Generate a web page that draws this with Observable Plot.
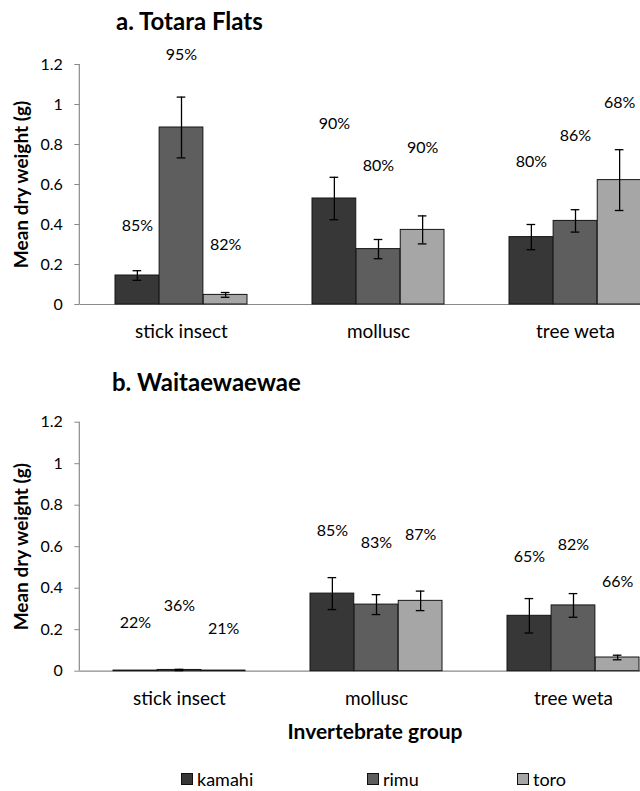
<!DOCTYPE html>
<html><head><meta charset="utf-8">
<script src="https://cdn.jsdelivr.net/npm/d3@7"></script>
<script src="https://cdn.jsdelivr.net/npm/@observablehq/plot@0.6"></script>
<style>
html,body{margin:0;padding:0;background:#fff;overflow:hidden;}
#root{position:relative;width:640px;height:791px;overflow:hidden;font-family:Lato,sans-serif;color:#000;}
.abs{position:absolute;white-space:nowrap;line-height:1.2;}
.ttl{font-weight:bold;font-size:24px;}
.leg{font-size:18px;display:flex;align-items:center;line-height:14px;height:14px;}
.sw{display:inline-block;width:10px;height:10px;border:1px solid #111;margin-right:4px;}
</style></head>
<body><div id="root"></div>
<script>
// ---- data ----
const categories = ["stick insect", "mollusc", "tree weta"];
const species = ["kamahi", "rimu", "toro"];
const speciesColors = ["#373737", "#5e5e5e", "#a6a6a6"];
const yTicks = [0, 0.2, 0.4, 0.6, 0.8, 1, 1.2];

// a. Totara Flats: mean dry weight (g), error, % label, label height
const totaraKamahi = [0.145, 0.530, 0.337];
const totaraRimu   = [0.885, 0.277, 0.418];
const totaraToro   = [0.048, 0.373, 0.622];
const totaraKamahiErr = [0.024, 0.106, 0.063];
const totaraRimuErr   = [0.152, 0.048, 0.056];
const totaraToroErr   = [0.012, 0.070, 0.152];
const totaraKamahiPct = [85, 90, 80];
const totaraRimuPct   = [95, 80, 86];
const totaraToroPct   = [82, 90, 68];
const totaraKamahiLabelY = [0.395, 0.903, 0.712];
const totaraRimuLabelY   = [1.249, 0.695, 0.842];
const totaraToroLabelY   = [0.300, 0.782, 1.007];

// b. Waitaewaewae
const waiKamahi = [0.003, 0.374, 0.267];
const waiRimu   = [0.006, 0.321, 0.317];
const waiToro   = [0.003, 0.339, 0.066];
const waiKamahiErr = [0, 0.077, 0.083];
const waiRimuErr   = [0.003, 0.048, 0.057];
const waiToroErr   = [0, 0.047, 0.011];
const waiKamahiPct = [22, 85, 65];
const waiRimuPct   = [36, 83, 82];
const waiToroPct   = [21, 87, 66];
const waiKamahiLabelY = [0.233, 0.674, 0.550];
const waiRimuLabelY   = [0.313, 0.618, 0.611];
const waiToroLabelY   = [0.205, 0.658, 0.429];

function buildRows(means, errs, pcts, labs) {
  const rows = [];
  species.forEach((s, k) => categories.forEach((c, i) => rows.push({
    category: c, species: s, k, mean: means[k][i], err: errs[k][i], pct: pcts[k][i], labelY: labs[k][i]
  })));
  return rows;
}
const totaraRows = buildRows([totaraKamahi, totaraRimu, totaraToro], [totaraKamahiErr, totaraRimuErr, totaraToroErr],
  [totaraKamahiPct, totaraRimuPct, totaraToroPct], [totaraKamahiLabelY, totaraRimuLabelY, totaraToroLabelY]);
const waiRows = buildRows([waiKamahi, waiRimu, waiToro], [waiKamahiErr, waiRimuErr, waiToroErr],
  [waiKamahiPct, waiRimuPct, waiToroPct], [waiKamahiLabelY, waiRimuLabelY, waiToroLabelY]);

const root = document.getElementById("root");
const AXIS_X = 79.3;

function panel(rows, top, height, marginTop, marginBottom, shift) {
  const xOpts = {type: "band", domain: categories, range: [AXIS_X + shift, AXIS_X + shift + 596.7],
    paddingInner: 0.331, paddingOuter: 0.1734, align: 0.5};
  const bw = Plot.scale({x: xOpts}).bandwidth;
  const sub = bw / 3;
  const capW = 9;
  const marks = [];
  // y axis line
  marks.push((index, scales, values, dim) => {
    const l = document.createElementNS("http://www.w3.org/2000/svg", "line");
    const x = dim.marginLeft;
    const y0 = scales && scales.y ? scales.y(0) : dim.height - dim.marginBottom;
    const y1 = scales && scales.y ? scales.y(yTicks[yTicks.length - 1]) : dim.marginTop;
    l.setAttribute("x1", x); l.setAttribute("x2", x);
    l.setAttribute("y1", y0); l.setAttribute("y2", y1);
    l.setAttribute("stroke", "#8a8a8a"); l.setAttribute("stroke-width", 1.2);
    return l;
  });
  marks.push(Plot.ruleY([0], {stroke: "#8a8a8a", strokeWidth: 1.2}));
  marks.push(Plot.axisY({ticks: yTicks, tickSize: 5, tickPadding: 12, tickFormat: d => String(d),
    fontSize: 16, stroke: "#8a8a8a", label: null}));
  marks.push(Plot.axisX({tickSize: 0, tickPadding: 20, fontSize: 19, label: null}));
  marks.push(Plot.text(["Mean dry weight (g)"], {frameAnchor: "left", textAnchor: "middle", rotate: -90, dx: -58,
    fontWeight: "bold", fontSize: 19, text: d => d}));
  species.forEach((s, k) => {
    const d = rows.filter(r => r.species === s);
    const off = (k - 1) * sub;
    const capL = bw / 2 + off - capW / 2, capR = bw / 2 - off - capW / 2;
    marks.push(Plot.barY(d, {x: "category", y: "mean", fill: speciesColors[k], stroke: "#151515", strokeWidth: 1,
      insetLeft: k * sub, insetRight: (2 - k) * sub}));
    const de = d.filter(r => r.err > 0);
    marks.push(Plot.ruleX(de, {x: "category", y1: r => r.mean - r.err, y2: r => r.mean + r.err, dx: off,
      stroke: "#000", strokeWidth: 1.3}));
    marks.push(Plot.tickY(de, {x: "category", y: r => r.mean + r.err, insetLeft: capL, insetRight: capR,
      stroke: "#000", strokeWidth: 1.3}));
    marks.push(Plot.tickY(de, {x: "category", y: r => r.mean - r.err, insetLeft: capL, insetRight: capR,
      stroke: "#000", strokeWidth: 1.3}));
    marks.push(Plot.text(d, {x: "category", y: "labelY", text: r => r.pct + "%", dx: off, fontSize: 16}));
  });
  const chart = Plot.plot({
    width: 640, height, marginTop, marginBottom, marginLeft: AXIS_X, marginRight: 0,
    style: {fontFamily: "Lato, sans-serif", color: "#000", background: "transparent", overflow: "hidden"},
    x: {...xOpts, axis: null},
    y: {domain: [0, yTicks[yTicks.length - 1]], axis: null},
    marks
  });
  chart.style.position = "absolute";
  chart.style.left = "0px";
  chart.style.top = top + "px";
  root.appendChild(chart);
}

panel(totaraRows, 0, 345, 64, 41, 0);
panel(waiRows, 400, 311, 21.7, 40.3, -1.7);

function addDiv(cls, text, css) {
  const el = document.createElement("div");
  el.className = "abs " + cls;
  el.textContent = text;
  Object.assign(el.style, css);
  root.appendChild(el);
  return el;
}
addDiv("ttl", "a. Totara Flats", {left: "116px", top: "7px"});
addDiv("ttl", "b. Waitaewaewae", {left: "112px", top: "368px"});
addDiv("ttl", "Invertebrate group", {left: "175px", width: "400px", textAlign: "center", top: "718px", fontSize: "21px"});

const legendLeft = [181, 367, 517];
species.forEach((s, k) => {
  const el = document.createElement("div");
  el.className = "abs leg";
  el.style.left = legendLeft[k] + "px";
  el.style.top = "772px";
  const sw = document.createElement("span");
  sw.className = "sw";
  sw.style.background = speciesColors[k];
  el.appendChild(sw);
  el.appendChild(document.createTextNode(s));
  root.appendChild(el);
});
</script>
</body></html>
